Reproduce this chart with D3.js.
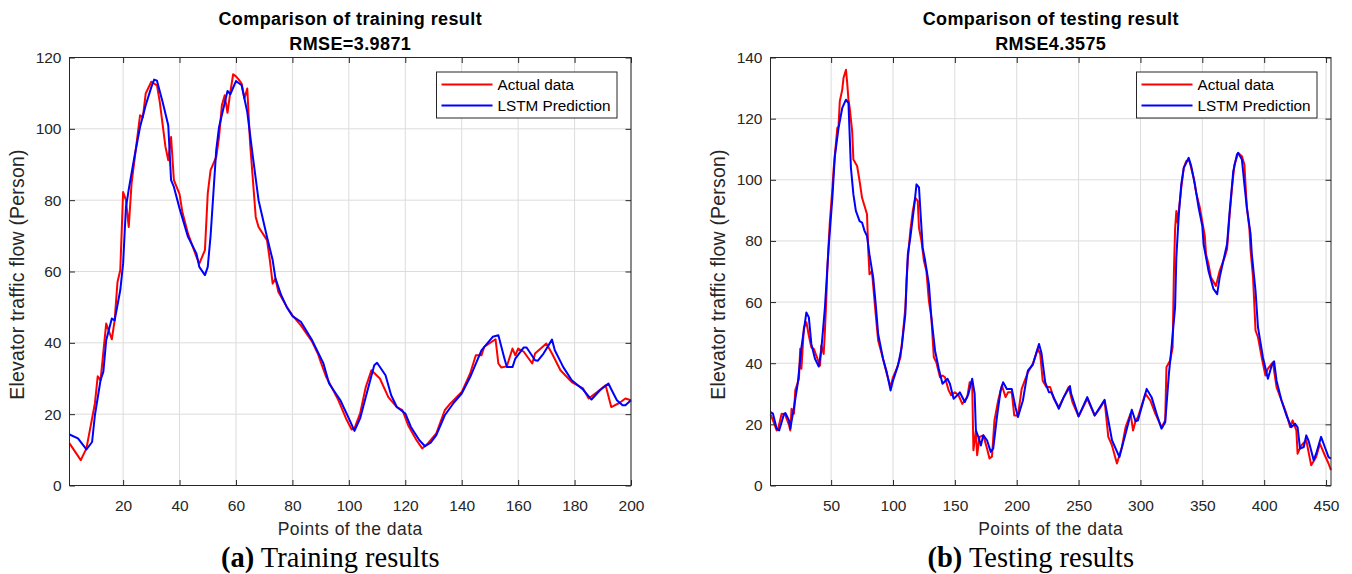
<!DOCTYPE html>
<html>
<head>
<meta charset="utf-8">
<script src="https://cdn.jsdelivr.net/npm/d3@7"></script>
<style>
  html, body { margin: 0; padding: 0; background: #fff; }
  svg { display: block; }
  text { font-family: "Liberation Sans", Arial, Helvetica, sans-serif; }
</style>
</head>
<body>
<svg id="chart" width="1352" height="574"></svg>
<script>
// ---------------- DATA ----------------
// Training (a): point index and value pairs
const trainActualX = [1,5,7,10,11,12,14,16,17,18,19,20,21,22,23,26,27,28,30,32,33,35,36,37,38,40,41,43,46,47,49,50,51,53,54,55,56,57,58,59,60,61,62,63,64,65,67,68,71,72,73,74,75,78,80,83,87,89,90,92,96,99,101,102,104,106,108,111,114,117,119,121,124,126,128,131,134,136,140,143,145,147,148,152,153,154,156,158,159,160,162,165,166,170,172,175,179,183,185,188,191,193,196,198,200];
const trainActual  = [11.8,7.1,10.4,23,30.6,29.5,45.4,41,46.3,57,60.4,82.3,80,72.5,84.7,103.8,103.2,109.9,113.2,112.2,107.5,95,91.2,97.7,85.6,81.7,76.7,70.6,64.1,62.2,66,81.9,88.4,92.1,97.7,106.6,109.4,104.5,110.3,115.3,114.7,113.8,112.7,108.5,111.3,96,75.3,72.5,68.8,63.2,56.6,58,54.3,50.1,47.7,44.9,40.3,37,34.7,30.4,24.4,18.8,15.7,16,20.2,27.6,32.3,30,24.8,22,21.1,16.9,12.7,10.4,11.8,14.6,21.1,23,26.2,31.4,36.5,36.5,38.9,41,34.2,33.1,33.4,38.4,36.5,38.4,37.5,34.2,37,39.8,37,32.3,29,27.2,24.4,26.2,28.1,22,23.2,24.4,23.9];
const trainPredX = [1,4,7,9,10,12,13,14,16,17,19,20,21,22,24,26,28,30,31,32,34,36,37,38,40,43,46,47,49,50,51,53,54,57,58,60,62,64,66,68,71,73,74,76,78,80,83,87,91,93,97,100,102,104,106,109,110,113,115,117,120,122,125,127,129,131,134,137,140,143,147,151,153,155,156,158,159,162,163,166,167,169,172,173,176,179,183,186,189,192,193,195,197,198,200];
const trainPred  = [14.3,13.2,10.1,12.2,19.7,29.5,31.9,40.7,46.8,46.3,54.8,62.2,78,83,92.1,100.5,106.6,111.7,113.8,113.5,107.5,101,85.6,83.7,77.7,69.7,65,61.3,59,61.3,70,94,100.5,110.6,109.7,113.4,112.2,104.7,92.1,80,69.7,63.2,58,53.4,50,47.5,45.9,40.7,34.2,28.6,23.9,18.8,15.3,18.8,24.8,33.7,34.4,30.9,25.3,22,20.2,16.4,12.7,11,12,14.1,19.7,23,25.8,30.4,37.9,41.7,42.1,36,33.2,33.2,35.6,38.7,38.7,35.1,35,37,40.9,37.9,33.2,29.5,26.9,24.1,26.7,28.6,27,23.9,22.5,22.5,23.9];

// Testing (b)
const testActualX = [1,3,6,7,10,13,16,17,18,20,21,24,25,26,28,30,32,34,36,39,41,42,44,45,46,47,48,49,51,52,55,56,57,59,60,62,63,64,65,67,68,71,73,75,77,79,80,81,83,86,88,92,95,98,100,103,106,108,110,111,112,114,116,118,120,121,123,125,127,129,131,133,135,138,140,142,145,147,150,153,156,160,162,164,165,167,168,170,173,176,178,180,182,185,188,191,193,196,198,201,204,209,213,217,219,221,224,227,230,234,238,242,245,250,255,257,263,267,271,274,277,281,285,288,292,294,296,298,304,308,312,317,320,321,324,326,327,328,329,330,333,335,337,339,340,343,345,348,352,353,355,357,361,364,368,370,372,374,376,379,382,384,386,388,389,391,393,395,398,401,403,407,410,414,418,421,423,426,427,430,434,438,442,445,449,452,454];
const testActual  = [23.3,21.3,18,18.3,23.5,23,19.7,18,25.1,23.5,31.1,34.9,44.7,38.2,51.7,53.4,49,45.2,44.7,41.4,39.2,45.8,43,50.7,59.9,71.3,79,86.5,96.9,103.4,117,117.5,125.7,129.5,133.3,136,131.6,126.2,123.5,115.9,106.6,104.5,99.6,94.1,91.4,88.7,77,69.1,70,56.1,47.4,41.4,36.5,32.2,35.4,38.2,41.9,49.6,58.3,67,74,83.3,89.8,94.1,93.1,84.3,80,73.5,70.2,60.4,55,41.9,40.3,35.4,36,35.4,31.1,29.5,30.5,29.5,26.7,28.9,33.8,33.6,11.5,18,9.9,15.9,16.4,12.1,8.8,9.5,21.3,27.8,32.7,28.9,30.5,30.5,22.9,22.9,31.6,37,39.8,44.7,43,34.3,32.2,32.2,28.4,25.6,28.9,32.2,27.3,22.6,26.7,28.4,22.9,25.1,27.8,15.9,13.1,7.2,12.6,19.1,23.5,18,21,22.4,30,27.8,23.5,19.1,21.3,38.7,40.9,45.2,69.1,84,89.8,86,97.4,103.9,106.1,106.5,105.5,100.6,95.8,90.9,81.6,75.7,72.4,68,65.3,70.2,74.6,77.3,88.2,97.4,105,108.8,107.7,105,90.9,84.3,77,68,50.7,48.5,41.9,36,38.2,40.3,32.2,27.8,23.5,19.1,21.3,18,10.4,13.1,14.8,6.6,9.3,13.7,9.9,7.2,5];
const testPredX = [1,3,6,8,12,13,16,17,20,23,26,30,32,34,37,40,42,45,48,51,53,56,59,62,64,66,68,70,73,75,77,79,81,84,86,88,92,95,98,100,104,107,110,111,112,114,117,119,121,122,124,126,129,131,134,137,140,144,146,149,152,154,158,161,164,166,167,169,171,173,176,179,181,184,187,189,192,196,199,201,205,209,213,218,220,223,226,228,234,238,243,244,250,257,263,271,277,283,288,293,296,298,305,309,313,317,320,323,325,328,329,331,333,335,339,341,344,347,350,351,355,359,362,364,367,370,372,375,378,379,382,384,386,389,390,393,395,399,403,406,408,410,414,418,422,425,427,429,432,434,436,440,442,446,449,452,454];
const testPred  = [24,23.5,18.6,18,23.5,23.7,21.3,18.6,25.6,33.3,45.2,56.6,55,46.3,41.4,38.9,44.1,58.3,78,94.1,107.7,117,123.5,126.2,125.1,103.9,95.2,89.8,86.5,86,83.3,81.6,75.5,68,59.4,49.6,41.4,37,31.1,34.3,39.2,45.2,56.1,67,75.7,81.1,90.9,98.5,97.5,90.9,77.8,73.5,65.9,55,44.1,38.2,33.3,34.9,33.3,28.4,29.5,30.5,27.3,30,34.9,30,18,15.9,13.1,16.4,14.8,11,12.1,22.4,31.1,33.8,31.6,31.6,25.6,22.4,27.8,37.6,39.5,46.3,43.3,33.8,30.5,30.5,25.1,28.9,32.5,30,22.6,28.9,22.9,28,14.8,9.3,17,24.8,21,21.3,31.6,28.9,23.5,18.6,20.7,36.5,44.7,58.3,74.6,88.7,98.5,103.9,107.2,104.5,98.5,90.9,84.9,79,70.2,64.3,62.6,68,73.5,79,89.2,102.8,108.3,108.8,106.6,98.5,90.9,82.2,75.7,63.7,51.7,41.9,34.9,39.2,40.6,34.3,27.8,22.9,19.1,20.2,19,12.1,12.6,16.4,14.5,8.3,10.4,15.9,12.6,9.3,8.8];

// Tick labels / axis settings
const trainXTicks = [20,40,60,80,100,120,140,160,180,200];
const trainYTicks = [0,20,40,60,80,100,120];
const testXTicks  = [50,100,150,200,250,300,350,400,450];
const testYTicks  = [0,20,40,60,80,100,120,140];
const seriesNames = ["Actual data", "LSTM Prediction"];
const seriesColors = ["#ff0000", "#0000ff"];

// ---------------- DRAW ----------------
const svg = d3.select("#chart");
const AXC = "#262626";

function panel(cfg) {
  const g = svg.append("g");
  const x = d3.scaleLinear().domain(cfg.xDomain).range([cfg.left, cfg.right]);
  const y = d3.scaleLinear().domain(cfg.yDomain).range([cfg.bottom, cfg.top]);

  // grid
  g.append("g").selectAll("line").data(cfg.xTicks).join("line")
    .attr("x1", d => x(d)).attr("x2", d => x(d))
    .attr("y1", cfg.top).attr("y2", cfg.bottom)
    .attr("stroke", "#dcdcdc").attr("stroke-width", 1);
  g.append("g").selectAll("line").data(cfg.yTicks).join("line")
    .attr("x1", cfg.left).attr("x2", cfg.right)
    .attr("y1", d => y(d)).attr("y2", d => y(d))
    .attr("stroke", "#dcdcdc").attr("stroke-width", 1);

  // lines
  const line = d3.line().x(d => x(d[0])).y(d => y(d[1]));
  cfg.series.forEach((s, k) => {
    g.append("path")
      .datum(s.xs.map((xi, i) => [xi, s.vs[i]]))
      .attr("fill", "none")
      .attr("stroke", seriesColors[k])
      .attr("stroke-width", 2)
      .attr("stroke-linejoin", "round")
      .attr("d", line);
  });

  // axes
  const fs = "15.5px";
  const bx = g.append("g").attr("transform", `translate(0,${cfg.bottom})`)
    .call(d3.axisBottom(x).tickValues(cfg.xTicks).tickSizeInner(-5.5).tickSizeOuter(0).tickPadding(14.5));
  const lx = g.append("g").attr("transform", `translate(${cfg.left},0)`)
    .call(d3.axisLeft(y).tickValues(cfg.yTicks).tickSizeInner(-5.5).tickSizeOuter(0).tickPadding(8));
  const tx = g.append("g").attr("transform", `translate(0,${cfg.top})`)
    .call(d3.axisTop(x).tickValues(cfg.xTicks).tickSizeInner(-5.5).tickSizeOuter(0).tickFormat(""));
  const rx = g.append("g").attr("transform", `translate(${cfg.right},0)`)
    .call(d3.axisRight(y).tickValues(cfg.yTicks).tickSizeInner(-5.5).tickSizeOuter(0).tickFormat(""));
  [bx, lx, tx, rx].forEach(a => {
    a.selectAll("path.domain").remove();
    a.selectAll("line").attr("stroke", AXC);
    a.selectAll("text").attr("fill", AXC).style("font-size", fs)
      .style("font-family", '"Liberation Sans", Arial, sans-serif');
  });
  // box
  g.append("rect").attr("x", cfg.left).attr("y", cfg.top)
    .attr("width", cfg.right - cfg.left).attr("height", cfg.bottom - cfg.top)
    .attr("fill", "none").attr("stroke", AXC).attr("stroke-width", 1);

  const cx = (cfg.left + cfg.right) / 2;
  // titles
  g.append("text").attr("x", cx).attr("y", 25).attr("text-anchor", "middle")
    .style("font-size", "18px").style("font-weight", "bold").style("letter-spacing", "0.4px")
    .attr("fill", "#000").text(cfg.title1);
  g.append("text").attr("x", cx).attr("y", 49.5).attr("text-anchor", "middle")
    .style("font-size", "18px").style("font-weight", "bold").style("letter-spacing", "0.4px")
    .attr("fill", "#000").text(cfg.title2);
  // x label
  g.append("text").attr("x", cx).attr("y", 534.5).attr("text-anchor", "middle")
    .style("font-size", "17.5px").style("letter-spacing", "0.5px").attr("fill", AXC)
    .text("Points of the data");
  // y label
  g.append("text").attr("transform", `translate(${cfg.left - 45.5},${(cfg.top + cfg.bottom) / 2 + 3}) rotate(-90)`)
    .attr("text-anchor", "middle")
    .style("font-size", "19.5px").style("letter-spacing", "0.2px").attr("fill", AXC)
    .text("Elevator traffic flow (Person)");

  // legend
  const L = g.append("g").attr("transform", `translate(${cfg.right - 194.5},${cfg.top + 14.5})`);
  L.append("rect").attr("x", 0).attr("y", 0).attr("width", 180.5).attr("height", 46)
    .attr("fill", "#fff").attr("stroke", AXC).attr("stroke-width", 1);
  seriesNames.forEach((nm, k) => {
    const yy = 12.5 + k * 21;
    L.append("line").attr("x1", 5).attr("x2", 56).attr("y1", yy).attr("y2", yy)
      .attr("stroke", seriesColors[k]).attr("stroke-width", 2);
    L.append("text").attr("x", 61).attr("y", yy + 5.5)
      .style("font-size", "15.3px").attr("fill", "#000").text(nm);
  });

  // caption
  const cap = g.append("text").attr("x", cx - 20).attr("y", 567).attr("text-anchor", "middle")
    .style("font-family", '"Liberation Serif", "Times New Roman", serif')
    .style("font-size", "28.5px").attr("fill", "#000");
  cap.append("tspan").style("font-weight", "bold").text(cfg.capA);
  cap.append("tspan").text(" " + cfg.capB);
}

panel({
  left: 69.5, right: 631, top: 57.5, bottom: 485.5,
  xDomain: [1, 200], yDomain: [0, 120],
  xTicks: trainXTicks, yTicks: trainYTicks,
  series: [{xs: trainActualX, vs: trainActual}, {xs: trainPredX, vs: trainPred}],
  title1: "Comparison of training result", title2: "RMSE=3.9871",
  capA: "(a)", capB: "Training results"
});
panel({
  left: 770.5, right: 1331, top: 57.5, bottom: 485.5,
  xDomain: [1, 454], yDomain: [0, 140],
  xTicks: testXTicks, yTicks: testYTicks,
  series: [{xs: testActualX, vs: testActual}, {xs: testPredX, vs: testPred}],
  title1: "Comparison of testing result", title2: "RMSE4.3575",
  capA: "(b)", capB: "Testing results"
});
</script>
</body>
</html>
